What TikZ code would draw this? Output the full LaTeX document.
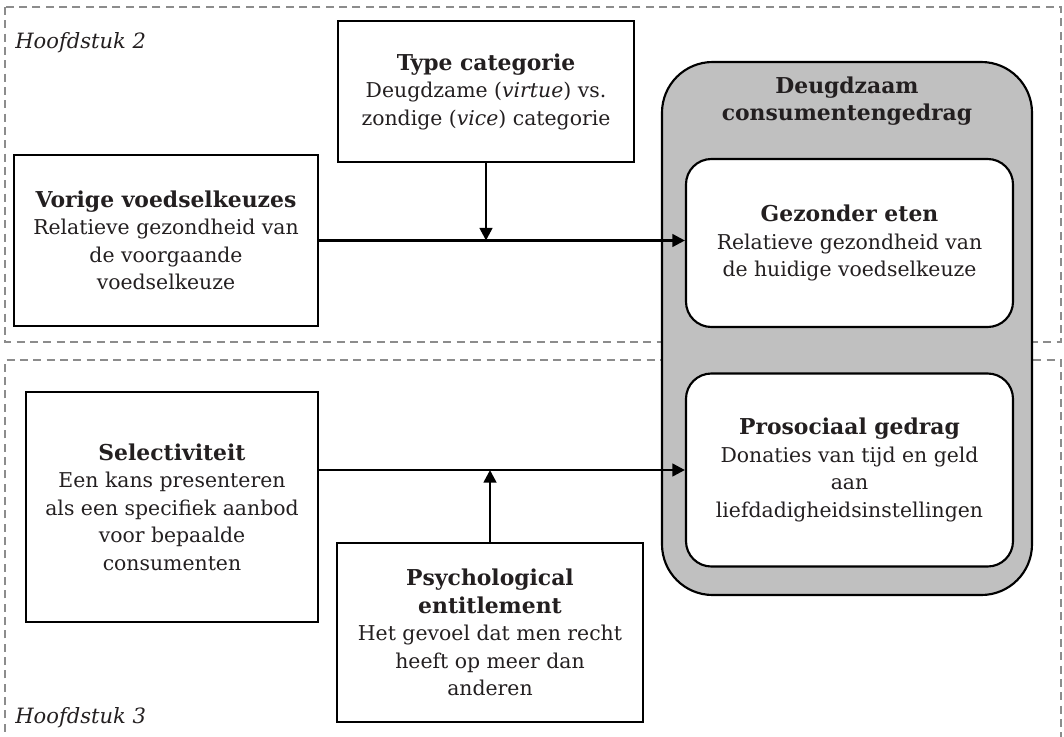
\documentclass[tikz,border=0pt]{standalone}
\usepackage{fontspec}
\setmainfont{DejaVu Serif}
\usetikzlibrary{arrows.meta}
\definecolor{txt}{HTML}{231F20}
\definecolor{dashgray}{HTML}{8C8C8C}
\definecolor{fillgray}{HTML}{C0C0C0}
\newcommand\hd[1]{{\fontsize{16.4}{20.6}\selectfont\bfseries #1}}
\begin{document}
\begin{tikzpicture}[x=0.75pt,y=-0.75pt,
  every node/.style={text=txt, font=\fontsize{15.3}{20.6}\selectfont, align=center, inner sep=0pt},
  chapter/.style={draw=dashgray, line width=1.1pt, dash pattern=on 6pt off 4pt},
  sqbox/.style={draw=black, line width=1.6pt, fill=white, rectangle},
  rbox/.style={draw=black, line width=1.6pt, fill=white, rectangle, rounded corners=19pt},
  bigbox/.style={draw=black, line width=1.6pt, fill=fillgray, rectangle, rounded corners=38pt},
  arr/.style={draw=black, line width=2pt, -{Triangle[length=9.5pt,width=9.5pt]}},
  lbl/.style={font=\fontsize{15.8}{20.6}\selectfont\itshape, anchor=base west}
]
\useasboundingbox (0,0) rectangle (1064,736);
% chapter frames
\draw[chapter] (5,7) rectangle (1061,342);
\draw[chapter] (5,745) -- (5,360) -- (1061,360) -- (1061,745);
\node[lbl] (h2) at (15,48) {Hoofdstuk 2};
\node[lbl] (h3) at (15,723) {Hoofdstuk 3};
% big grey container
\node[bigbox, minimum width=370*0.75pt, minimum height=533*0.75pt] (big) at (847,328.5) {};
\node (bigtitle) at (847,101) {\hd{Deugdzaam}\\\hd{consumentengedrag}};
% outcome boxes
\node[rbox, minimum width=327*0.75pt, minimum height=168*0.75pt] (gez) at (849.5,243)
  {\hd{Gezonder eten}\\Relatieve gezondheid van\\de huidige voedselkeuze};
\node[rbox, minimum width=327*0.75pt, minimum height=193*0.75pt] (pro) at (849.5,470)
  {\hd{Prosociaal gedrag}\\Donaties van tijd en geld\\aan\\liefdadigheidsinstellingen};
% predictors
\node[sqbox, minimum width=304*0.75pt, minimum height=171*0.75pt] (vor) at (166,240.5)
  {\hd{Vorige voedselkeuzes}\\Relatieve gezondheid van\\de voorgaande\\voedselkeuze};
\node[sqbox, minimum width=296*0.75pt, minimum height=141*0.75pt] (typ) at (486,91.5)
  {\hd{Type categorie}\\Deugdzame (\textit{virtue}) vs.\\zondige (\textit{vice}) categorie};
\node[sqbox, minimum width=292*0.75pt, minimum height=230*0.75pt] (sel) at (172,507)
  {\hd{Selectiviteit}\\Een kans presenteren\\als een specifiek aanbod\\voor bepaalde\\consumenten};
\node[sqbox, minimum width=306*0.75pt, minimum height=179*0.75pt] (psy) at (490,632.5)
  {\hd{Psychological}\\\hd{entitlement}\\Het gevoel dat men recht\\heeft op meer dan\\anderen};
% connectors
\draw[arr] (vor.east) -- (vor.east -| gez.west);
\draw[arr] (typ.south) -- (typ.south |- vor.east);
\draw[arr] (sel.east |- pro.west) -- (pro.west);
\draw[arr] (psy.north) -- (psy.north |- pro.west);
\end{tikzpicture}
\end{document}
